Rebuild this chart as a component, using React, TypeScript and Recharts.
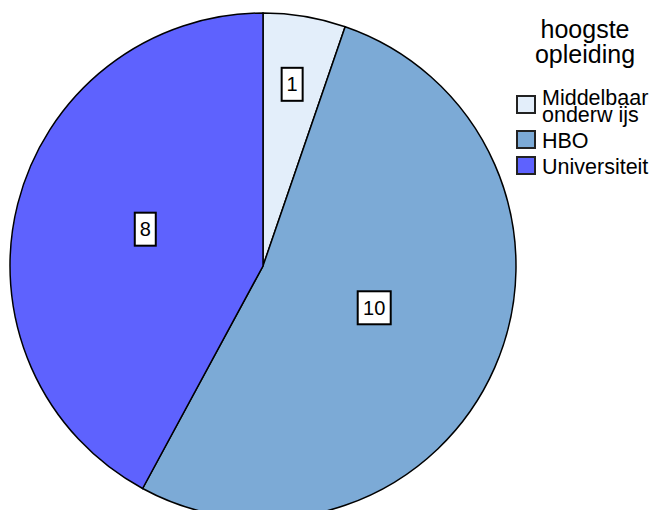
import { PieChart, Pie, Cell, Legend } from "recharts";

const categories = ["Middelbaar onderw ijs", "HBO", "Universiteit"];
const counts = [1, 10, 8];
const colors = ["#E3EEFA", "#7CAAD6", "#5E62FE"];
const legendTitle = "hoogste opleiding";

const data = categories.map((name, i) => ({ name, value: counts[i] }));

const RAD = Math.PI / 180;
const FONT = "'Liberation Sans', Arial, sans-serif";

const renderLabel = (props: any) => {
  const { cx, cy, midAngle, outerRadius, percent, value } = props;
  const r = outerRadius * (percent < 0.1 ? 0.7 : 0.48);
  const x = cx + r * Math.cos(-midAngle * RAD);
  const y = cy + r * Math.sin(-midAngle * RAD) - 7;
  const w = String(value).length > 1 ? 33 : 21;
  const h = 33;
  return (
    <g>
      <rect x={x - w / 2} y={y - h / 2} width={w} height={h} fill="#fff" stroke="#000" strokeWidth={2} />
      <text x={x} y={y} textAnchor="middle" dominantBaseline="central" fontSize={20} fontFamily={FONT} fill="#000">
        {value}
      </text>
    </g>
  );
};

const renderLegend = () => (
  <div style={{ fontFamily: FONT, color: "#000", position: "relative" }}>
    {/* title wraps onto two lines by width */}
    <div
      style={{
        position: "absolute",
        left: 520,
        top: 17,
        width: 130,
        textAlign: "center",
        fontSize: 25,
        lineHeight: "25px",
      }}
    >
      {legendTitle}
    </div>
    <div style={{ position: "absolute", left: 516, top: 89 }}>
      {data.map((d, i) => (
        <div key={d.name} style={{ display: "flex", alignItems: "center", marginBottom: 8 }}>
          <div
            style={{
              width: 16,
              height: 15,
              background: colors[i],
              border: "2px solid #222",
              marginRight: 6,
              marginTop: -4,
              flexShrink: 0,
            }}
          />
          <div style={{ fontSize: 21.5, lineHeight: "17px", width: 110, paddingTop: 1 }}>{d.name}</div>
        </div>
      ))}
    </div>
  </div>
);

export default function App() {
  return (
    <div style={{ position: "absolute", left: 0, top: 0, background: "#fff" }}>
      <PieChart width={650} height={510} margin={{ top: 0, right: 0, bottom: 0, left: 0 }}>
        <Pie
          data={data}
          dataKey="value"
          nameKey="name"
          cx={263}
          cy={266}
          outerRadius={253}
          startAngle={90}
          endAngle={-270}
          stroke="#000"
          strokeWidth={1.5}
          label={renderLabel}
          labelLine={false}
          isAnimationActive={false}
        >
          {data.map((d, i) => (
            <Cell key={d.name} fill={colors[i]} />
          ))}
        </Pie>
        <Legend
          layout="vertical"
          content={renderLegend}
          wrapperStyle={{ position: "absolute", left: 0, top: 0, width: 650, height: 0 }}
        />
      </PieChart>
    </div>
  );
}
